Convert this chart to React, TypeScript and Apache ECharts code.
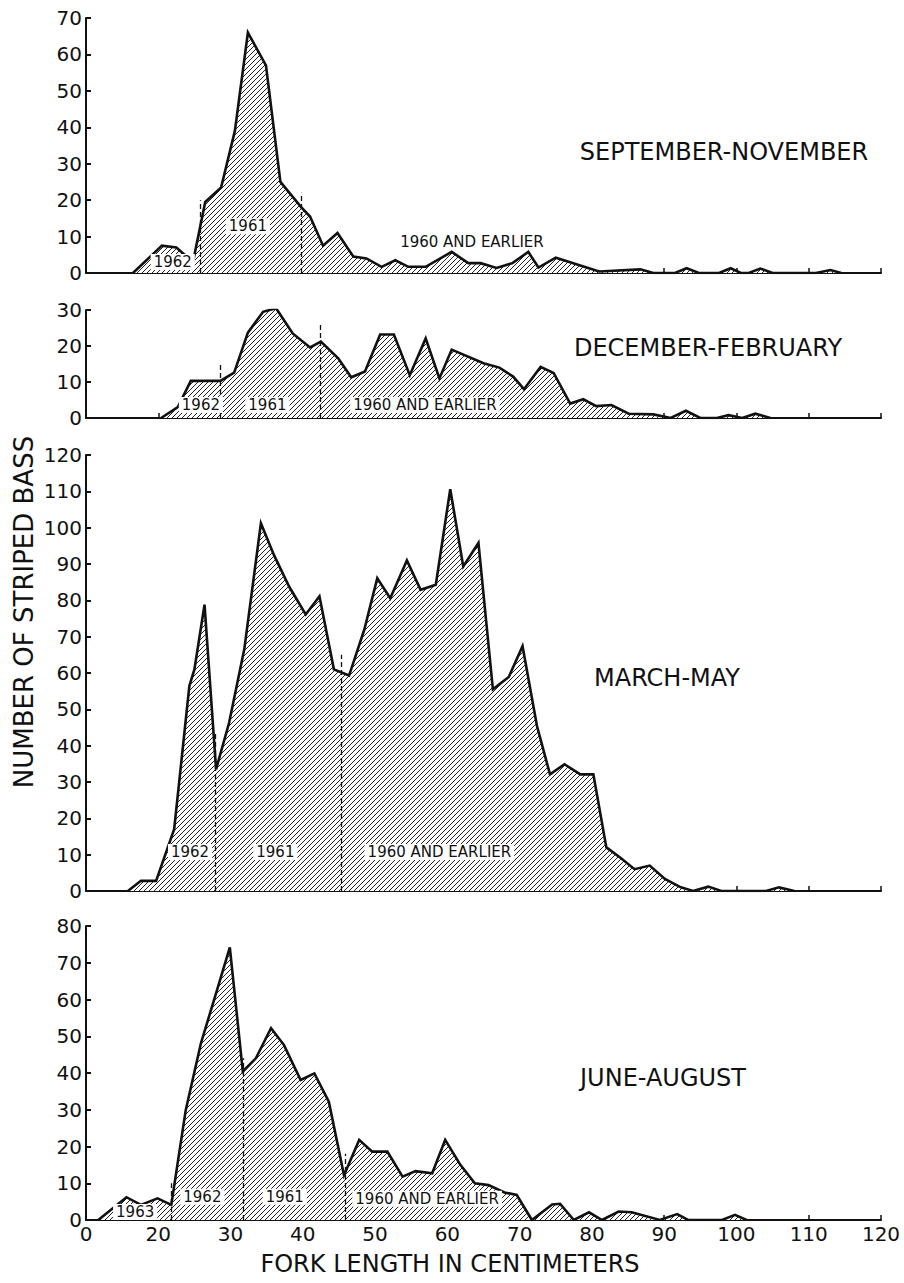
import React, { useEffect, useRef } from "react";
import * as echarts from "echarts";

// ---- Data (fork length in cm, number of striped bass) ----
const sepNovLen = [16.5, 20.5, 22.5, 24.8, 26.5, 28.7, 30.6, 32.4, 34.9, 36.9, 39.8, 41, 42.8, 44.8, 47, 48.8, 50.9, 52.8, 54.6, 57, 60.6, 62.9, 64.6, 66.8, 69, 71.2, 72.6, 75, 81, 86.7, 88.5, 91.5, 93.1, 94.8, 97.6, 99.2, 100.6, 101.7, 103.3, 105, 111, 113, 114.5];
const sepNovCnt = [0, 7.5, 7, 3, 19.5, 23.5, 39, 66, 57, 25, 18, 15.5, 7.5, 11, 4.5, 4, 1.7, 3.5, 1.7, 1.7, 5.8, 2.7, 2.7, 1.4, 2.7, 5.8, 1.5, 4.2, 0.4, 1, 0, 0, 1.3, 0, 0, 1.3, 0, 0, 1.2, 0, 0, 0.8, 0];

const decFebLen = [20.4, 22.7, 24.5, 28.6, 30.5, 32.4, 34.5, 36.3, 38.6, 41, 42.5, 44.9, 46.7, 48.6, 50.7, 52.6, 54.8, 57, 58.9, 60.6, 65, 67.2, 69.1, 70.6, 72.9, 74.7, 77, 78.8, 80.6, 82.7, 85.1, 88.5, 90.9, 93, 95, 97.3, 98.9, 100.8, 102.6, 104.7];
const decFebCnt = [0, 3, 10.3, 10.3, 12.6, 23.7, 29.5, 30.5, 23.5, 19.6, 21.2, 16.6, 11.3, 12.9, 23.2, 23.2, 11.9, 22.1, 11, 19, 15.2, 14, 11.5, 8, 14.2, 12.5, 4, 5.2, 3.3, 3.6, 1.2, 1, 0, 2, 0, 0, 0.8, 0, 1.2, 0];

const marMayLen = [15.8, 17.6, 19.7, 22.2, 24.3, 25, 26.4, 28, 29.8, 31.9, 34.2, 36, 38.1, 40.4, 42.3, 44.3, 46.4, 48.5, 50.3, 52.1, 54.4, 56.3, 58.4, 60.4, 62.2, 64.3, 66.3, 68.5, 70.4, 72.4, 74.2, 76.2, 78.4, 80.2, 82, 83.9, 85.9, 88, 90.1, 92.3, 94, 96.1, 97.9, 104.1, 105.9, 108];
const marMayCnt = [0, 2.8, 2.8, 17, 56.4, 61, 78.8, 33.5, 46.3, 66.5, 101.2, 92.5, 83.8, 76.1, 81.1, 61, 59.3, 71.9, 86.1, 80.6, 91, 82.9, 84.3, 110.6, 89.3, 95.8, 55.5, 58.9, 67.4, 45.4, 32.1, 34.9, 32.1, 32.1, 12, 9.2, 6, 7, 3.3, 1, 0, 1.2, 0, 0, 1, 0];

const junAugLen = [11.7, 15.6, 17.6, 19.9, 21.8, 23.8, 25.9, 28.2, 29.9, 31.7, 33.5, 35.6, 37.4, 39.7, 41.6, 43.6, 45.7, 47.8, 49.6, 51.7, 53.8, 55.6, 57.9, 59.7, 61.8, 63.8, 65.7, 67.9, 69.6, 71.7, 74.5, 75.6, 77.5, 79.6, 81.4, 83.7, 85.5, 89.4, 91.8, 93.3, 98, 99.8, 101.4];
const junAugCnt = [0, 6.2, 4.1, 5.9, 4.1, 29.9, 48.1, 63, 74.2, 40.4, 44, 52.2, 47.6, 38.1, 39.9, 32.2, 12.2, 21.8, 18.6, 18.6, 11.8, 13.3, 12.7, 21.8, 15, 10, 9.5, 7.5, 6.8, 0, 4.2, 4.4, 0, 2.1, 0, 2.3, 2.1, 0, 1.6, 0, 0, 1.4, 0];

// Age-class boundaries: [length, top of dashed line]
const sepNovBounds = [[25.8, 20], [39.8, 22]];
const decFebBounds = [[28.6, 15], [42.4, 26]];
const marMayBounds = [[27.9, 44], [45.3, 65]];
const junAugBounds = [[21.8, 10], [31.7, 44], [45.9, 18]];

// Age-class labels: [text, length, count, white box]
const sepNovLabels: [string, number, number, boolean][] = [["1962", 22.0, 3, true], ["1961", 32.4, 12.8, true], ["1960 AND EARLIER", 63.4, 8.4, false]];
const decFebLabels: [string, number, number, boolean][] = [["1962", 25.9, 3.6, true], ["1961", 35.1, 3.6, true], ["1960 AND EARLIER", 56.9, 3.6, true]];
const marMayLabels: [string, number, number, boolean][] = [["1962", 24.4, 10.7, true], ["1961", 36.2, 10.7, true], ["1960 AND EARLIER", 58.9, 10.7, true]];
const junAugLabels: [string, number, number, boolean][] = [["1963", 16.8, 2.2, true], ["1962", 26.1, 6.3, true], ["1961", 37.5, 6.3, true], ["1960 AND EARLIER", 57.2, 5.8, true]];

const panelTitles = ["SEPTEMBER-NOVEMBER", "DECEMBER-FEBRUARY", "MARCH-MAY", "JUNE-AUGUST"];
const yMax = [70, 30, 120, 80];
const xTickLabels = ["0", "20", "30", "40", "50", "60", "70", "80", "90", "100", "110", "120"];

const FONT = "DejaVu Sans";

export default function App() {
  const ref = useRef<HTMLDivElement>(null);
  useEffect(() => {
    if (!ref.current) return;
    const chart = echarts.init(ref.current, null, { renderer: "svg" });

    const tile = 5;
    const cv = document.createElement("canvas");
    cv.width = tile;
    cv.height = tile;
    const g = cv.getContext("2d")!;
    g.fillStyle = "#ffffff";
    g.fillRect(0, 0, tile, tile);
    g.strokeStyle = "#222";
    g.lineWidth = 1;
    g.beginPath();
    g.moveTo(0, tile);
    g.lineTo(tile, 0);
    g.moveTo(-1, 1);
    g.lineTo(1, -1);
    g.moveTo(tile - 1, tile + 1);
    g.lineTo(tile + 1, tile - 1);
    g.stroke();
    const pattern = { image: cv, repeat: "repeat" };

    const grids = [
      { left: 86, right: 23, top: 18, height: 255 },
      { left: 86, right: 23, top: 310, height: 108 },
      { left: 86, right: 23, top: 455, height: 436 },
      { left: 86, right: 23, top: 926, height: 294 },
    ];

    const panels = [
      { len: sepNovLen, cnt: sepNovCnt, bounds: sepNovBounds, labels: sepNovLabels },
      { len: decFebLen, cnt: decFebCnt, bounds: decFebBounds, labels: decFebLabels },
      { len: marMayLen, cnt: marMayCnt, bounds: marMayBounds, labels: marMayLabels },
      { len: junAugLen, cnt: junAugCnt, bounds: junAugBounds, labels: junAugLabels },
    ];

    const xAxes = grids.map((_, i) => ({
      type: "value",
      gridIndex: i,
      min: 10,
      max: 120,
      interval: 10,
      splitLine: { show: false },
      axisLine: { show: true, lineStyle: { color: "#111", width: 2 } },
      axisTick: { show: true, inside: true, length: 5, lineStyle: { color: "#111", width: 1.5 } },
      axisLabel: {
        show: i === 3,
        color: "#111",
        fontSize: 20,
        fontFamily: FONT,
        margin: 4,
        formatter: (v: number) => xTickLabels[Math.round(v / 10) - 1] ?? "",
      },
    }));

    const yAxes = grids.map((_, i) => ({
      type: "value",
      gridIndex: i,
      min: 0,
      max: yMax[i],
      interval: 10,
      splitLine: { show: false },
      axisLine: { show: true, lineStyle: { color: "#111", width: 2 } },
      axisTick: { show: true, inside: true, length: 5, lineStyle: { color: "#111", width: 2 } },
      axisLabel: { color: "#111", fontSize: 20, fontFamily: FONT, margin: 4 },
    }));

    const series = panels.map((p, i) => ({
      type: "line",
      xAxisIndex: i,
      yAxisIndex: i,
      data: p.len.map((x, k) => [x, p.cnt[k]]),
      symbol: "none",
      lineStyle: { color: "#111", width: 2.6, join: "miter" },
      areaStyle: { color: pattern, opacity: 1 },
      silent: true,
      z: 2,
      markLine: {
        silent: true,
        symbol: ["none", "none"],
        label: { show: false },
        lineStyle: { color: "#111", width: 1.3, type: [5, 3] },
        data: p.bounds.map(([x, top]) => [{ coord: [x, 0] }, { coord: [x, top] }]),
      },
      markPoint: {
        silent: true,
        symbol: "circle",
        symbolSize: 1,
        itemStyle: { color: "rgba(0,0,0,0)" },
        data: p.labels.map(([t, x, y, bg]) => ({
          name: t,
          coord: [x, y],
          label: {
            show: true,
            position: "inside",
            formatter: t,
            color: "#111",
            fontSize: 15,
            fontFamily: FONT,
            backgroundColor: bg ? "#fff" : "transparent",
            padding: [1, 3, 0, 3],
          },
        })),
      },
    }));

    const titlePos = [
      [724, 152],
      [708, 348],
      [667, 678],
      [663, 1078],
    ];

    const graphic: any[] = panelTitles.map((t, i) => ({
      type: "text",
      x: titlePos[i][0],
      y: titlePos[i][1],
      style: {
        text: t,
        fill: "#111",
        font: `24px "${FONT}"`,
        textAlign: "center",
        textVerticalAlign: "middle",
      },
    }));
    graphic.push({
      type: "text",
      x: 24,
      y: 612,
      rotation: Math.PI / 2,
      style: {
        text: "NUMBER OF STRIPED BASS",
        fill: "#111",
        font: `26px "${FONT}"`,
        textAlign: "center",
        textVerticalAlign: "middle",
      },
    });
    graphic.push({
      type: "text",
      x: 450,
      y: 1264,
      style: {
        text: "FORK LENGTH IN CENTIMETERS",
        fill: "#111",
        font: `24px "${FONT}"`,
        textAlign: "center",
        textVerticalAlign: "middle",
      },
    });

    chart.setOption({
      animation: false,
      backgroundColor: "#fff",
      grid: grids,
      xAxis: xAxes,
      yAxis: yAxes,
      series,
      graphic,
    });

    return () => chart.dispose();
  }, []);

  return (
    <div
      ref={ref}
      style={{ position: "absolute", left: 0, top: 0, width: 904, height: 1283 }}
    />
  );
}
